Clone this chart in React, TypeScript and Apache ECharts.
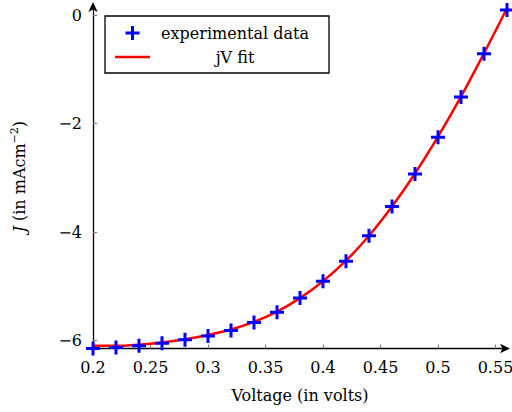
import React, { useEffect, useRef } from "react";
import * as echarts from "echarts";

const voltage = [0.2, 0.22, 0.24, 0.26, 0.28, 0.3, 0.32, 0.34, 0.36, 0.38, 0.4, 0.42, 0.44, 0.46, 0.48, 0.5, 0.52, 0.54, 0.56];
const measured = [-6.15, -6.13, -6.1, -6.055, -5.99, -5.92, -5.82, -5.67, -5.48, -5.22, -4.91, -4.54, -4.07, -3.53, -2.93, -2.25, -1.51, -0.71, 0.1];
const fitted = [-6.1, -6.1, -6.08, -6.04, -5.98, -5.9, -5.8, -5.66, -5.47, -5.22, -4.91, -4.53, -4.07, -3.53, -2.92, -2.24, -1.5, -0.7, 0.13];
const xTicks = [0.2, 0.25, 0.3, 0.35, 0.4, 0.45, 0.5, 0.55];
const yTicks = [-6, -4, -2, 0];

const PLUS = "path://M5.5,0h3v5.5h5.5v3h-5.5v5.5h-3v-5.5h-5.5v-3h5.5z";
const DASH = "path://M0,0h35v2.6h-35z";
const FONT = "DejaVu Serif";

export default function App() {
  const ref = useRef<HTMLDivElement>(null);
  useEffect(() => {
    if (!ref.current) return;
    const chart = echarts.init(ref.current, null, { renderer: "svg" });
    const axisLine = { show: true, onZero: false, lineStyle: { color: "#000", width: 1.3 } };
    chart.setOption({
      animation: false,
      backgroundColor: "#fff",
      textStyle: { fontFamily: FONT },
      grid: { left: 93, right: 5, top: 5, bottom: 63.5, containLabel: false, outerBoundsMode: "none" },
      legend: {
        orient: "vertical",
        left: 105,
        top: 16,
        padding: [9, 14, 8, 10],
        itemGap: 8,
        itemWidth: 35,
        itemHeight: 14,
        symbolKeepAspect: true,
        borderColor: "#000",
        borderWidth: 1.3,
        backgroundColor: "#fff",
        borderRadius: 0,
        formatter: (n: string) => "{t|" + n + "}",
        textStyle: {
          rich: { t: { width: 160, align: "center", fontSize: 16, fontFamily: FONT, color: "#000", lineHeight: 18 } },
        },
        data: [
          { name: "experimental data", icon: PLUS },
          { name: "jV fit", icon: DASH, itemStyle: { color: "#ff0000" } },
        ],
      },
      xAxis: {
        type: "value",
        min: 0.2,
        max: 0.56,
        name: "Voltage (in volts)",
        nameLocation: "middle",
        nameGap: 39,
        nameTextStyle: { fontSize: 16, fontFamily: FONT, color: "#000" },
        axisLine: { ...axisLine, symbol: ["none", "arrow"], symbolSize: [7, 10], symbolOffset: [0, 3] },
        axisTick: { show: true, inside: true, length: 4, lineStyle: { color: "#777", width: 1 }, customValues: xTicks },
        axisLabel: { color: "#000", fontSize: 16, fontFamily: FONT, margin: 11, customValues: xTicks, formatter: (v: number) => String(+v.toFixed(2)) },
        splitLine: { show: false },
      },
      yAxis: {
        type: "value",
        min: -6.15,
        max: 0.19,
        name: "{i|J} (in mAcm{s|−2})",
        nameLocation: "middle",
        nameRotate: 90,
        nameGap: 63,
        nameTextStyle: {
          fontSize: 16,
          fontFamily: FONT,
          color: "#000",
          rich: {
            i: { fontStyle: "italic", fontSize: 16, fontFamily: FONT, color: "#000" },
            s: { fontSize: 11, fontFamily: FONT, color: "#000", verticalAlign: "top", padding: [0, 0, 10, 0] },
          },
        },
        axisLine: { ...axisLine, symbol: ["none", "arrow"], symbolSize: [7, 10], symbolOffset: [0, 3] },
        axisTick: { show: true, inside: true, length: 4, lineStyle: { color: "#777", width: 1 }, customValues: yTicks },
        axisLabel: { color: "#000", fontSize: 16, fontFamily: FONT, margin: 11, customValues: yTicks, formatter: (v: number) => String(v).replace("-", "−") },
        splitLine: { show: false },
      },
      series: [
        {
          name: "jV fit",
          type: "line",
          data: voltage.map((x, i) => [x, fitted[i]]),
          smooth: 0.4,
          symbol: "none",
          showSymbol: false,
          lineStyle: { color: "#ff0000", width: 2.5 },
          itemStyle: { color: "#ff0000" },
          z: 2,
        },
        {
          name: "experimental data",
          type: "scatter",
          data: voltage.map((x, i) => [x, measured[i]]),
          symbol: PLUS,
          symbolSize: 14,
          itemStyle: { color: "#0000ff", opacity: 1 },
          z: 3,
        },
      ],
    });
    return () => chart.dispose();
  }, []);
  return <div ref={ref} style={{ position: "fixed", left: 0, top: 0, width: 512, height: 412 }} />;
}
